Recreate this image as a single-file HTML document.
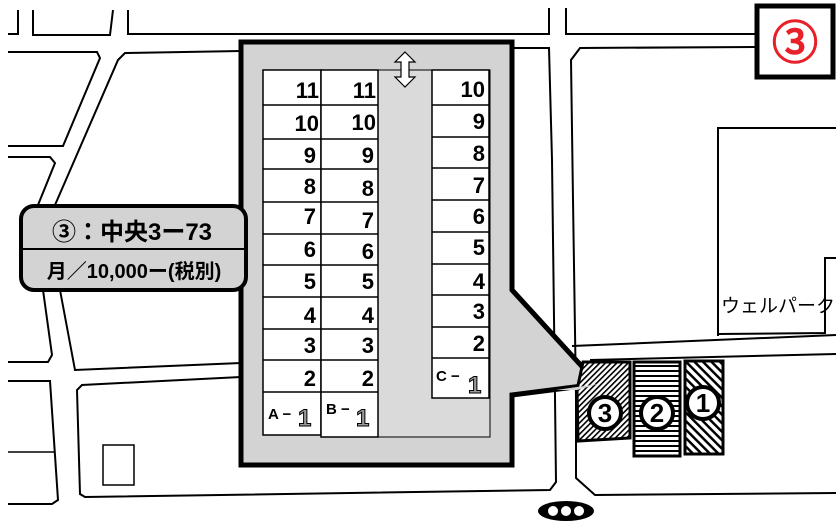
<!DOCTYPE html>
<html><head><meta charset="utf-8"><style>
html,body{margin:0;padding:0;background:#fff;}
svg{display:block;}
text{font-family:"Liberation Sans","Noto Sans CJK JP",sans-serif;}
.n{font-weight:bold;font-size:22px;text-anchor:end;}
</style></head><body>
<svg width="840" height="530" viewBox="0 0 840 530" xmlns="http://www.w3.org/2000/svg">
<defs>
<pattern id="h1" width="6" height="6" patternUnits="userSpaceOnUse" patternTransform="rotate(-45)"><rect width="6" height="6" fill="#fff"/><rect width="2.5" height="6" fill="#000"/></pattern>
<pattern id="h3" width="4" height="4" patternUnits="userSpaceOnUse" patternTransform="rotate(45)"><rect width="4" height="4" fill="#fff"/><rect width="1.6" height="4" fill="#000"/></pattern>
<pattern id="h2" width="5" height="5" patternUnits="userSpaceOnUse"><rect width="5" height="5" fill="#fff"/><rect width="5" height="2" fill="#000"/></pattern>
</defs>
<g fill="none" stroke="#000" stroke-width="2">
<polyline points="8,34 18,34 18,10"/>
<polyline points="33,10 33,35 110,35 113,10"/>
<polyline points="128,10 128,34 549,34 549,8"/>
<polyline points="566,8 566,34 756,34"/>
<polyline points="8,52 97,52 100,58 63,146 8,146"/>
<polyline points="241,51 125,53 118,60 55,205"/>
<polyline points="8,157 50,157 55,163 38,205"/>
<polyline points="43,290 52,355 48,362 8,362"/>
<polyline points="60,290 75,370 241,363"/>
<polyline points="8,381 50,381 58,500 52,504 8,504"/>
<line x1="8" y1="452" x2="55" y2="452" stroke-width="1.5"/>
<polyline points="241,377 82,385 77,390 80,494 85,497 550,490 556,482 555,397"/>
<polyline points="576,397 576,478 595,495 836,493"/>
<polyline points="514,48 549,48 552,160 555,397"/>
<polyline points="756,47 580,48 571,60 573,200 576,397"/>
<polyline points="572,346 836,335"/>
<polyline points="590,360 836,354"/>
<polyline points="718,336 718,128 836,128"/>
<polyline points="718,334 825,333 825,258 836,258"/>
<rect x="103" y="445" width="31" height="40" stroke-width="1.5"/>
</g>
<polygon points="241,42 512,42 512,290 598,384 512,395 512,465 241,465" fill="#d3d3d3" stroke="#000" stroke-width="5" stroke-linejoin="miter"/>
<rect x="378" y="70" width="112" height="367" fill="#dadada" stroke="#000" stroke-width="1"/>
<g stroke="#000" stroke-width="1.5" fill="#fff">
<rect x="263" y="70" width="58" height="365"/>
<rect x="321" y="70" width="57" height="367"/>
<rect x="432" y="70" width="57" height="328"/>
</g>
<g stroke="#000" stroke-width="1.5">
<path d="M263 105H378M263 139H378M263 169H378M263 202H378M263 234H378M263 265H378M263 297H378M263 329H378M263 360H378M263 392H378"/>
<path d="M432 105H489M432 137H489M432 168H489M432 200H489M432 232H489M432 264H489M432 295H489M432 327H489M432 358H489"/>
</g>
<g>
<text class="n" x="319" y="98">11</text><text class="n" x="376" y="98">11</text>
<text class="n" x="319" y="131">10</text><text class="n" x="376" y="130">10</text>
<text class="n" x="316" y="163">9</text><text class="n" x="374" y="163">9</text>
<text class="n" x="316" y="194">8</text><text class="n" x="374" y="196">8</text>
<text class="n" x="316" y="224">7</text><text class="n" x="374" y="228">7</text>
<text class="n" x="316" y="257">6</text><text class="n" x="374" y="259">6</text>
<text class="n" x="316" y="289">5</text><text class="n" x="374" y="289">5</text>
<text class="n" x="316" y="323">4</text><text class="n" x="374" y="323">4</text>
<text class="n" x="316" y="353">3</text><text class="n" x="374" y="353">3</text>
<text class="n" x="316" y="386">2</text><text class="n" x="374" y="386">2</text>
<text class="n" x="485" y="97">10</text><text class="n" x="485" y="129">9</text>
<text class="n" x="485" y="161">8</text><text class="n" x="485" y="193">7</text>
<text class="n" x="485" y="224">6</text><text class="n" x="485" y="255">5</text>
<text class="n" x="485" y="289">4</text><text class="n" x="485" y="319">3</text>
<text class="n" x="485" y="351">2</text>
</g>
<g font-weight="bold" font-size="15">
<text x="268" y="419">A −</text><text x="326" y="414">B −</text><text x="436" y="381">C −</text>
</g>
<g font-weight="bold" font-size="24" fill="#999" stroke="#000" stroke-width="1">
<text x="298" y="426">1</text><text x="356" y="426">1</text><text x="468" y="393">1</text>
</g>
<polygon points="405,52 415,62 409,62 409,77 415,77 405,87 395,77 401,77 401,62 395,62" fill="#fff" stroke="#000" stroke-width="1.2"/>
<rect x="21" y="206" width="225" height="84" rx="13" fill="#d3d3d3" stroke="#000" stroke-width="4"/>
<line x1="21" y1="249" x2="246" y2="249" stroke="#000" stroke-width="2"/>
<text x="132" y="240" font-size="24" font-weight="bold" text-anchor="middle">③：中央3ー73</text>
<text x="134" y="278" font-size="20" font-weight="bold" text-anchor="middle">月／10,000ー(税別)</text>
<rect x="757" y="6" width="76" height="71" fill="#fff" stroke="#000" stroke-width="5"/>
<text x="795" y="59" font-size="46" fill="#e8202a" stroke="#e8202a" stroke-width="1.5" text-anchor="middle">③</text>
<polygon points="583,362 630,362 630,438 578,441 577,390" fill="url(#h3)" stroke="#000" stroke-width="3"/>
<polygon points="598,384 556,390 577,390" fill="#d3d3d3"/>
<rect x="634" y="362" width="46" height="94" fill="url(#h2)" stroke="#000" stroke-width="3"/>
<rect x="685" y="361" width="38" height="93" fill="url(#h1)" stroke="#000" stroke-width="3"/>
<g fill="#fff" stroke="#000" stroke-width="4">
<circle cx="605" cy="413" r="16"/><circle cx="657" cy="413" r="16"/><circle cx="703" cy="403" r="16"/>
</g>
<g font-weight="bold" font-size="26" text-anchor="middle">
<text x="605" y="422">3</text><text x="657" y="422">2</text><text x="703" y="412">1</text>
</g>
<text x="721" y="312" font-size="19">ウェルパーク</text>
<ellipse cx="566" cy="511" rx="28" ry="10" fill="#000"/>
<g fill="#fff"><circle cx="553" cy="511" r="5"/><circle cx="566" cy="511" r="5"/><circle cx="579" cy="511" r="5"/></g>
</svg>
</body></html>
